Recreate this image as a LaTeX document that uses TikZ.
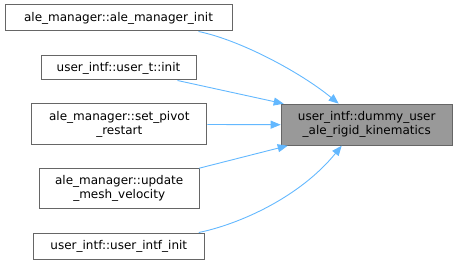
\documentclass[tikz,border=0pt]{standalone}
\usepackage{fontspec}
\setmainfont{DejaVu Sans}
\usetikzlibrary{arrows.meta}
\definecolor{edgeblue}{HTML}{63B8FF}
\definecolor{boxgray}{HTML}{666666}
\definecolor{targetfill}{HTML}{999999}
\begin{document}
\begin{tikzpicture}[x=1pt,y=-1pt,
  fn/.style={draw=boxgray,line width=1pt,fill=white,inner sep=0pt,align=center,
    font=\fontsize{12}{14}\selectfont,text=black},
  target/.style={fn,fill=targetfill},
  edge/.style={draw=edgeblue,line width=0.9pt,-{Triangle[length=10pt,width=8pt]}}]
\useasboundingbox (0,0) rectangle (457,264);
\node[fn,minimum width=227pt,minimum height=26pt] (a) at (118.5,18) {ale\_manager::ale\_manager\_init};
\node[fn,minimum width=155pt,minimum height=24pt] (b) at (118.5,68) {user\_intf::user\_t::init};
\node[fn,minimum width=175pt,minimum height=41pt] (c) at (119.3,124.5) {ale\_manager::set\_pivot\\\_restart};
\node[fn,minimum width=160pt,minimum height=40pt] (d) at (119.2,188.7) {ale\_manager::update\\\_mesh\_velocity};
\node[fn,minimum width=171pt,minimum height=26pt] (e) at (118.8,246) {user\_intf::user\_intf\_init};
\node[target,minimum width=171pt,minimum height=41pt] (t) at (366.7,124.7) {user\_intf::dummy\_user\\\_ale\_rigid\_kinematics};
\draw[edge] ([xshift=80pt]a.south) .. controls (240,40) and (300,72) .. ([xshift=-28pt]t.north);
\draw[edge] ([xshift=59pt]b.south) -- ([xshift=-83pt]t.north);
\draw[edge] (c.east) -- (t.west);
\draw[edge] ([xshift=80pt]d.north) -- ([xshift=-79pt]t.south);
\draw[edge] ([xshift=80pt]e.north) .. controls (240,224) and (300,197) .. ([xshift=-25pt]t.south);
\end{tikzpicture}
\end{document}
